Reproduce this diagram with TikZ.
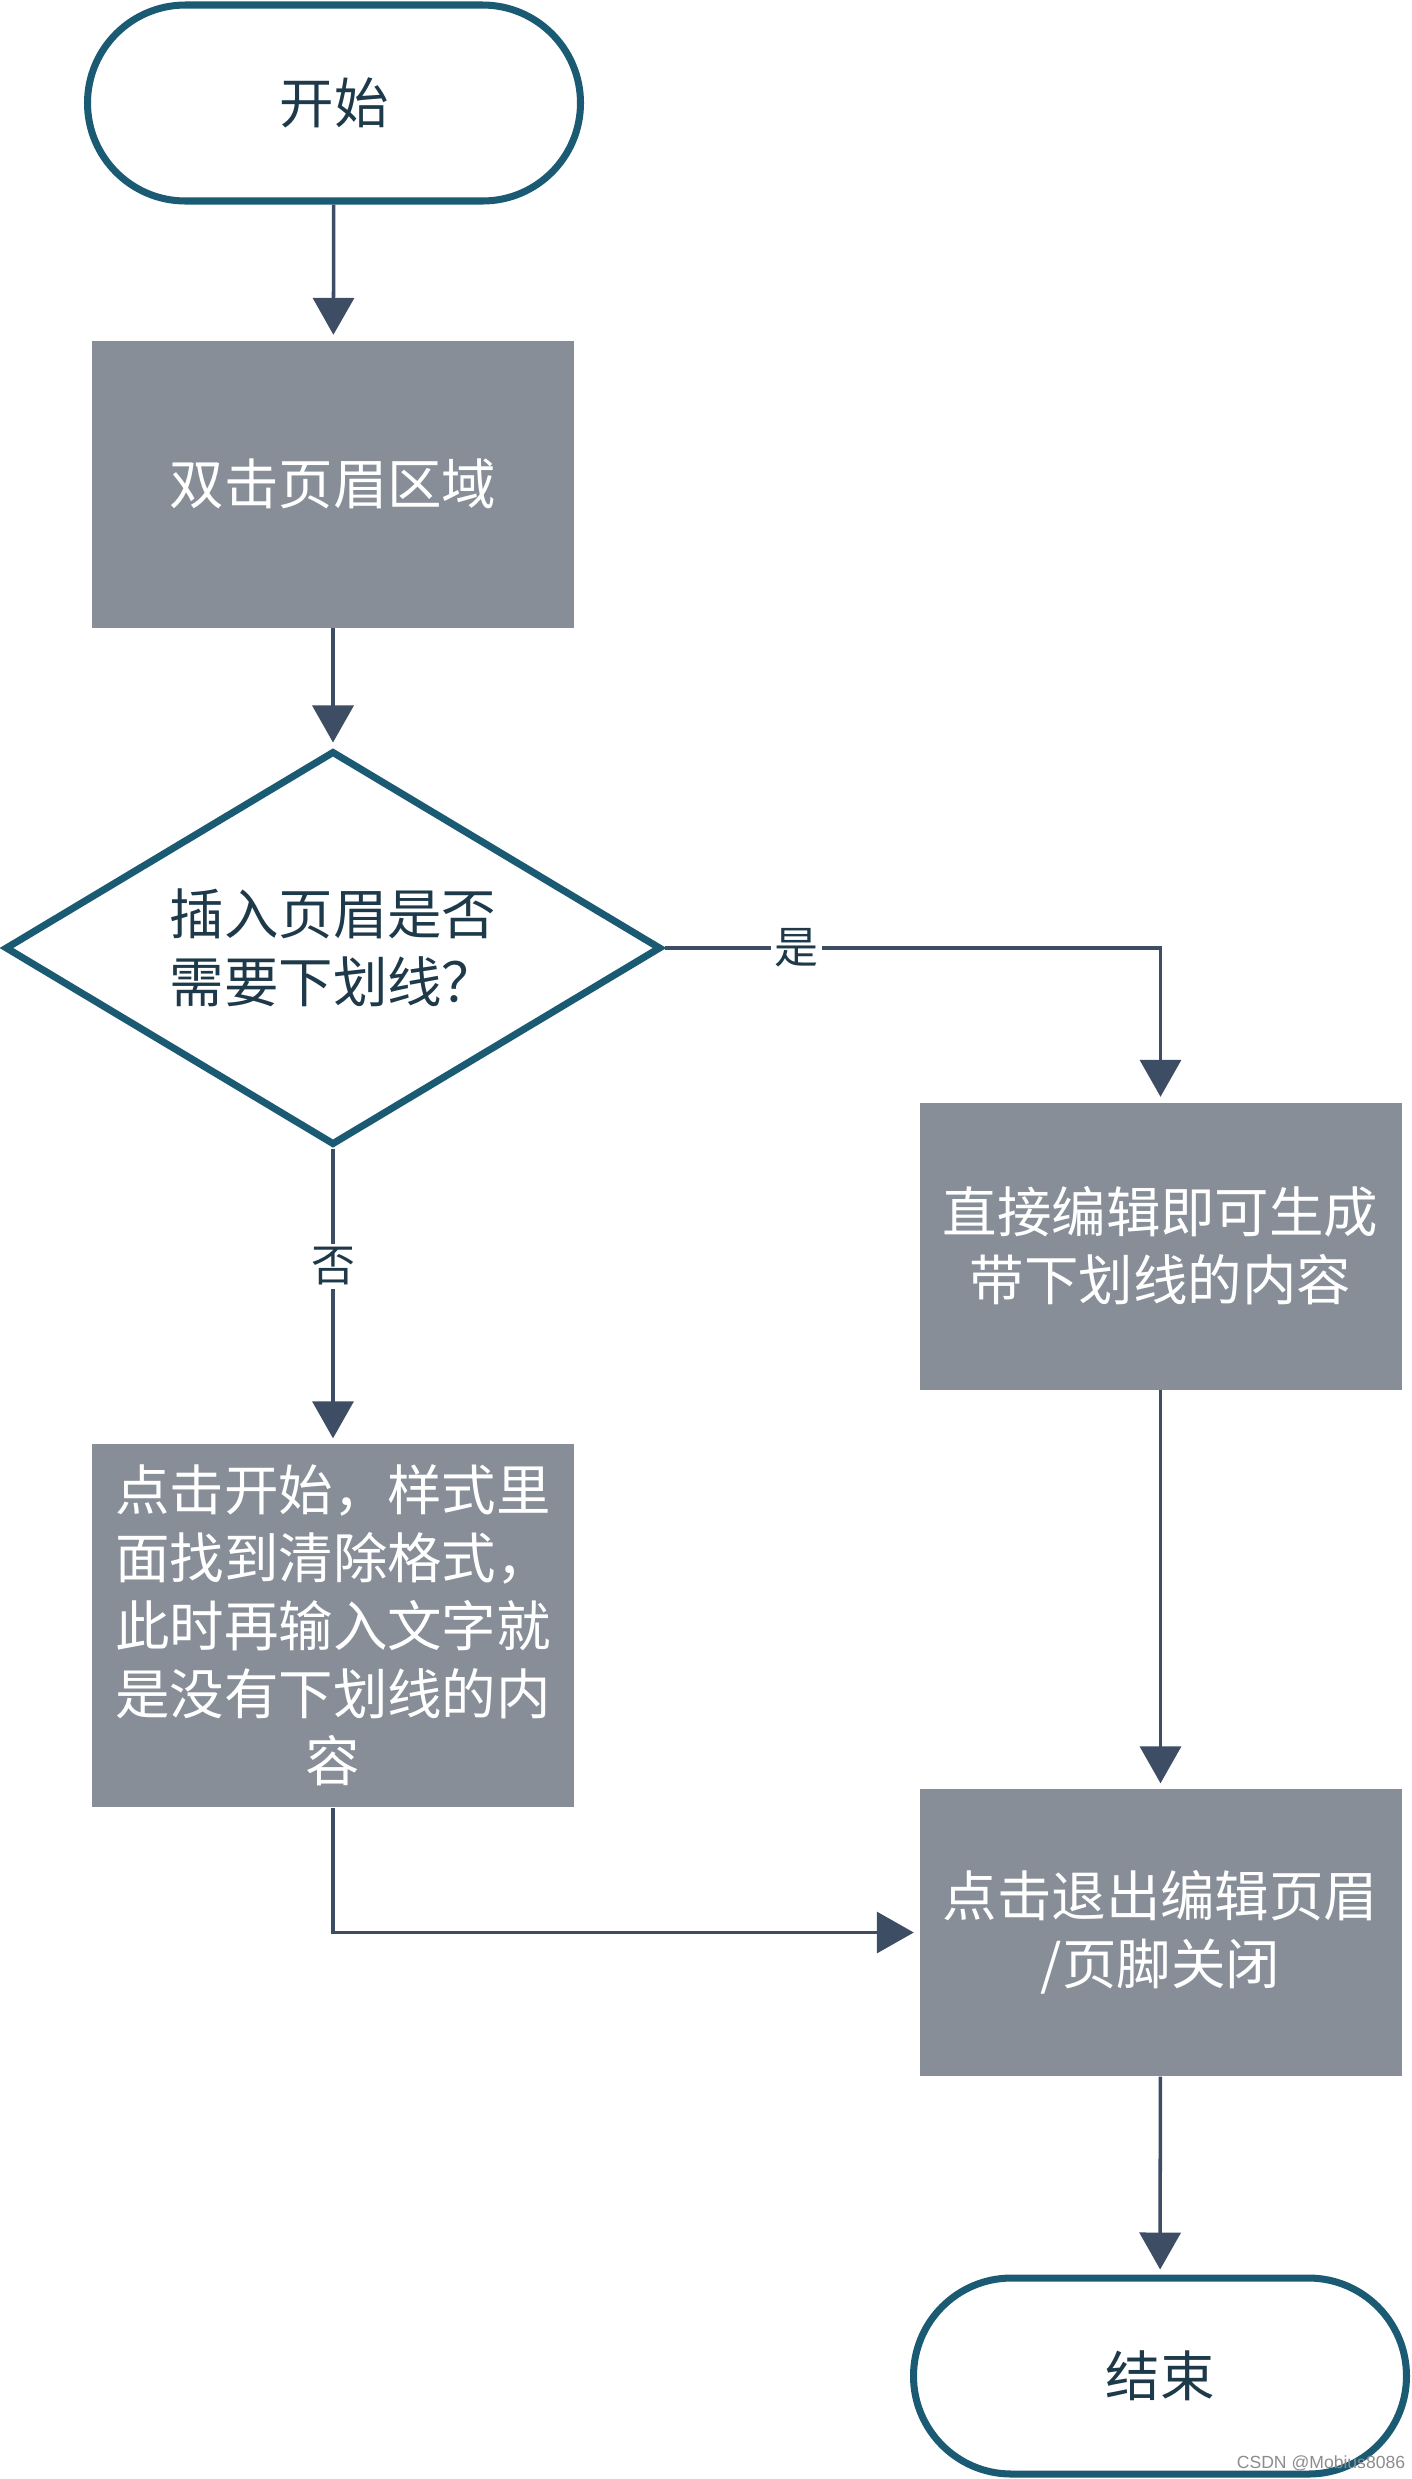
\documentclass[tikz,border=0pt]{standalone}
\usepackage{fontspec}
\setmainfont{Noto Sans CJK SC}
\newfontfamily\markfont{Liberation Sans}
\usetikzlibrary{arrows.meta,shapes.geometric}

\definecolor{edgeteal}{HTML}{1A5B73}
\definecolor{boxgray}{HTML}{878E98}
\definecolor{arrowslate}{HTML}{3C4D64}
\definecolor{darktext}{HTML}{1E3A4A}

\tikzset{
    terminal/.style={draw=edgeteal,line width=2pt,fill=white,rounded corners=0.98cm,
        minimum width=4.93cm,minimum height=1.96cm,text=darktext,
        font=\fontsize{15.5pt}{19.3pt}\selectfont},
    process/.style={fill=boxgray,minimum width=4.82cm,minimum height=2.87cm,
        text=white,align=center,inner sep=0pt,
        font=\fontsize{15.5pt}{19.3pt}\selectfont},
    decision/.style={draw=edgeteal,line width=2pt,diamond,shape aspect=1.665,
        minimum width=6.56cm,minimum height=3.94cm,inner sep=0pt,align=center,
        text=darktext,font=\fontsize{15.5pt}{19.3pt}\selectfont},
    flow/.style={draw=arrowslate,line width=1pt,
        -{Triangle[width=0.41cm,length=0.37cm]},shorten >=0.05cm},
    answer/.style={fill=white,text=darktext,inner sep=1pt,
        font=\fontsize{12.5pt}{14pt}\selectfont}
}

\begin{document}
\begin{tikzpicture}
    \useasboundingbox (0,0) rectangle (14.11,-24.79);

    \node[terminal] (start) at (3.34,-1.03) {开始};
    \node[process] (dblclick) at (3.33,-4.84) {双击页眉区域};
    \node[decision] (ask) at (3.33,-9.48) {插入页眉是否\\需要下划线？};
    \node[process] (editdirect) at (11.605,-12.46) {直接编辑即可生成\\带下划线的内容};
    \node[process,minimum height=3.63cm] (clearfmt) at (3.33,-16.255)
        {点击开始，样式里\\面找到清除格式，\\此时再输入文字就\\是没有下划线的内\\容};
    \node[process] (quit) at (11.605,-19.325) {点击退出编辑页眉\\/页脚关闭};
    \node[terminal] (finish) at (11.60,-23.76) {结束};

    \draw[flow] (start) -- (dblclick);
    \draw[flow] (dblclick) -- (ask);
    \draw[flow] (ask.east) -| node[answer,pos=0.133] {是} (editdirect.north);
    \draw[flow] (ask.south) -- node[answer,pos=0.40] {否} (clearfmt.north);
    \draw[flow] (editdirect) -- (quit);
    \draw[flow] (clearfmt.south) |- (quit.west);
    \draw[flow] (quit) -- (finish);

    % watermark
    \node[text=black!45,font=\markfont\fontsize{5pt}{6pt}\selectfont] (mark) at (13.21,-24.63) {CSDN @Mobius8086};
\end{tikzpicture}
\end{document}
